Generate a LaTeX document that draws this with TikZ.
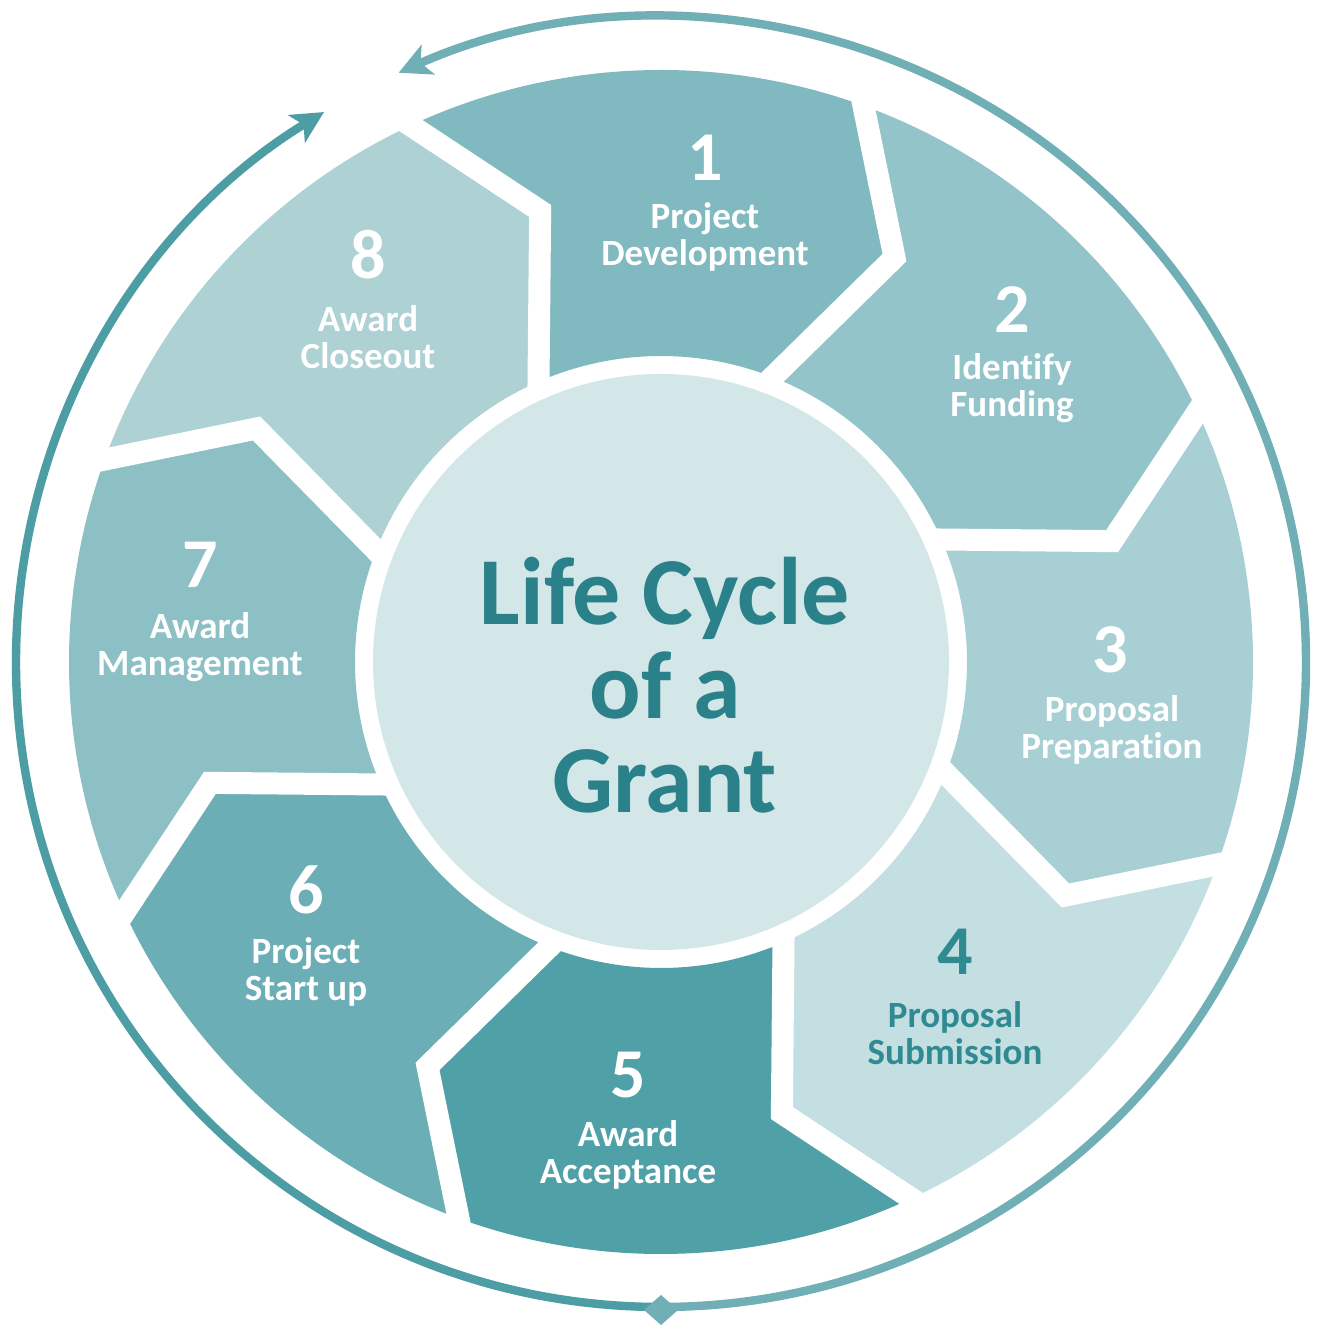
\documentclass[tikz,border=0pt]{standalone}
\usepackage{fontspec}
\setmainfont{Carlito}[Ligatures={NoCommon,NoContextual}]
\usetikzlibrary{arrows.meta,calc}
\definecolor{sA}{HTML}{80B9BF}
\definecolor{sB}{HTML}{92C4C9}
\definecolor{sC}{HTML}{A8D0D4}
\definecolor{sD}{HTML}{C4DFE2}
\definecolor{sE}{HTML}{50A0A8}
\definecolor{sF}{HTML}{6BAEB5}
\definecolor{sG}{HTML}{8DC0C5}
\definecolor{sH}{HTML}{AED1D4}
\definecolor{ccen}{HTML}{D3E7E9}
\definecolor{ctxt}{HTML}{2B8189}
\definecolor{dtxt}{HTML}{2F8A92}
\definecolor{ringR}{HTML}{6FAFB5}
\definecolor{ringL}{HTML}{4D9DA4}
\begin{document}
\begin{tikzpicture}[x=0.5pt,y=0.5pt,
  num/.style={font=\fontsize{35}{37}\selectfont\bfseries, text=white, inner sep=0pt},
  lbl/.style={font=\fontsize{18.5}{18.5}\selectfont\bfseries, text=white, align=center, inner sep=0pt},
  gapline/.style={white, line width=11pt, line join=miter, miter limit=20},
  ring/.style={line width=4.2pt},
  tip/.style={-{Stealth[length=16pt,width=16pt,inset=4pt]}}]
\useasboundingbox (0,0) rectangle (1319,1333);
\fill[white] (0,0) rectangle (1319,1333);
\coordinate (C) at (661,671);
\def\Ro{592}\def\Ra{467}\def\Ri{306}
\begin{scope}[shift={(661,671)}]
  \foreach \k/\col in {1/sA,2/sB,3/sC,4/sD,5/sE,6/sF,7/sG,8/sH} {
    \pgfmathsetmacro\a{115-45*(\k-1)}
    \pgfmathsetmacro\b{\a-45}
    \fill[\col] (\a:\Ro) arc[start angle=\a, end angle=\b, radius=\Ro]
      -- ({\b-10}:\Ra) -- ({\b-1}:\Ri)
      arc[start angle=\b-1, end angle=\a-1, radius=\Ri]
      -- ({\a-10}:\Ra) -- cycle;
  }
  \foreach \k in {0,...,7} {
    \pgfmathsetmacro\t{115-45*\k}
    \draw[gapline] ({\t+1.2}:613) -- ({\t-10}:\Ra) -- ({\t+0.8}:282);
  }
  % outer ring
  \draw[ring, ringR, tip] (-90:645) arc[start angle=-90, end angle=114, radius=645];
  \draw[ring, ringL, tip] (270:645) arc[start angle=270, end angle=121.5, radius=645];
  \fill[ringR] (-90:648) +(-17,0) -- +(0,15) -- +(17,0) -- +(0,-15) -- cycle;
\end{scope}
\node[circle, fill=ccen, minimum size=288pt, inner sep=0pt] (core) at (C) {};
\node[font=\fontsize{48}{47}\selectfont\bfseries, text=ctxt, align=center, inner sep=0pt] (title) at (665,648) {Life Cycle\\of a\\Grant};
\node[num] (n1) at (705,1175) {1};
\node[lbl] (l1) at (705,1096) {Project\\Development};
\node[num] (n2) at (1012,1023) {2};
\node[lbl] (l2) at (1012,945) {Identify\\Funding};
\node[num] (n3) at (1110,683) {3};
\node[lbl] (l3) at (1112,603) {Proposal\\Preparation};
\node[num, text=dtxt] (n4) at (955,381) {4};
\node[lbl, text=dtxt] (l4) at (955,300) {Proposal\\Submission};
\node[num] (n5) at (628,258) {5};
\node[lbl] (l5) at (628,178) {Award\\Acceptance};
\node[num] (n6) at (306,443) {6};
\node[lbl] (l6) at (306,361) {Project\\Start up};
\node[num] (n7) at (200,768) {7};
\node[lbl] (l7) at (200,686) {Award\\Management};
\node[num] (n8) at (368,1078) {8};
\node[lbl] (l8) at (368,996) {Award\\Closeout};
\end{tikzpicture}
\end{document}
